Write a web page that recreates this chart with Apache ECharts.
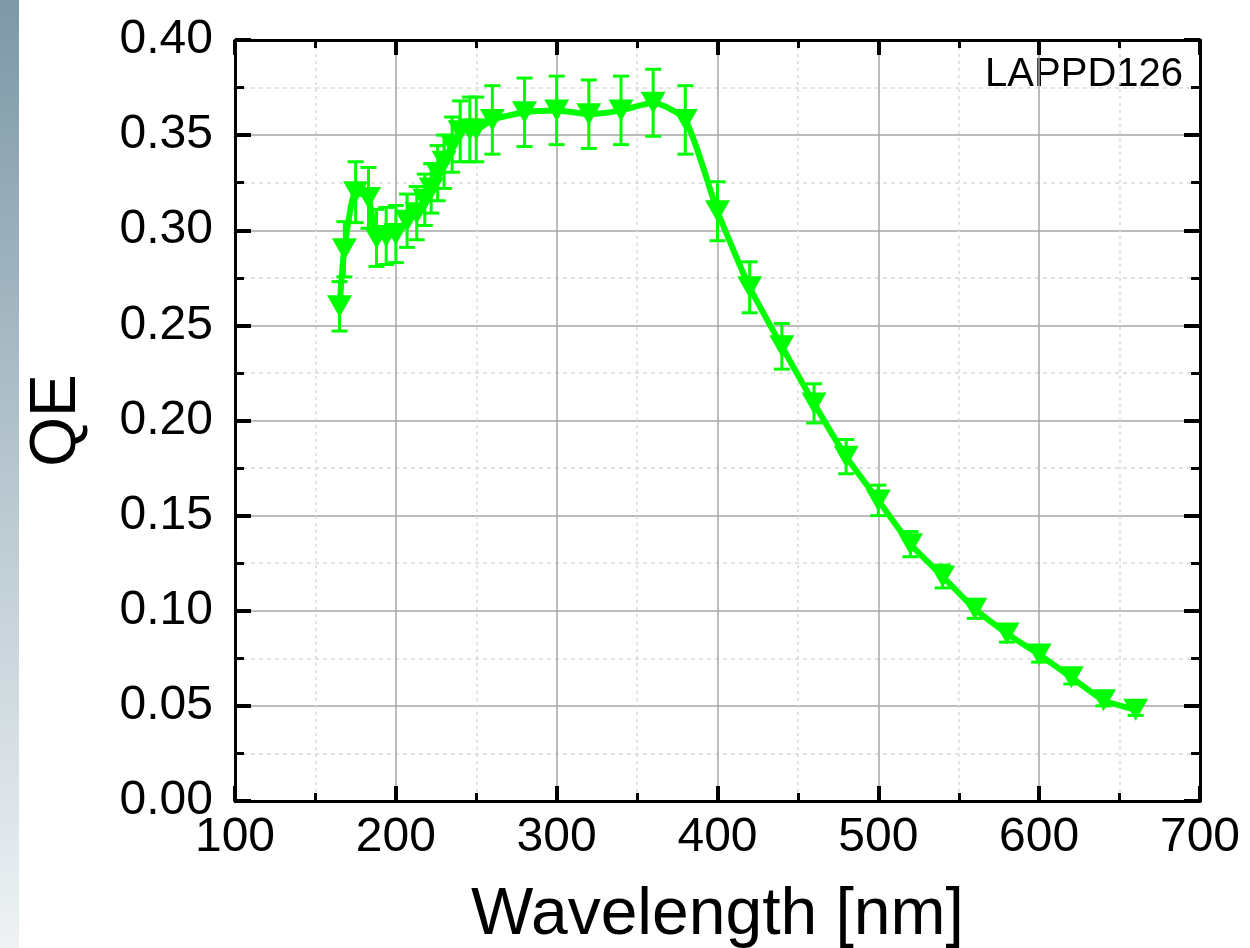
<!DOCTYPE html>
<html>
<head>
<meta charset="utf-8">
<script src="https://cdn.jsdelivr.net/npm/echarts@6/dist/echarts.min.js"></script>
<style>
  html, body { margin: 0; padding: 0; background: #fff; }
  #chart { width: 1250px; height: 948px; }
</style>
</head>
<body>
<div id="chart"></div>
<script>
// wavelength [nm]
const wavelengths = [165, 168, 175, 183, 188, 194, 200, 207, 213, 218, 222, 226, 230, 235, 240, 246, 250, 260,
  280, 300, 320, 340, 360, 380, 400, 420, 440, 460, 480, 500, 520, 540, 560, 580, 600, 620, 640, 660]
// quantum efficiency
const qe = [0.260, 0.290, 0.320, 0.317, 0.296, 0.297, 0.298, 0.305, 0.309, 0.316, 0.322, 0.330, 0.336, 0.345, 0.352, 0.353, 0.353, 0.358,
  0.362, 0.363, 0.361, 0.363, 0.367, 0.358, 0.310, 0.270, 0.239, 0.209, 0.181, 0.158, 0.135, 0.118, 0.101, 0.088, 0.077, 0.065, 0.053, 0.048]
// error bar half heights
const qeErr = [0.013, 0.0145, 0.016, 0.016, 0.015, 0.015, 0.015, 0.014, 0.014, 0.0135, 0.013, 0.0145, 0.014, 0.0145, 0.016, 0.017, 0.017, 0.018,
  0.018, 0.018, 0.018, 0.018, 0.0176, 0.018, 0.0155, 0.0134, 0.012, 0.0103, 0.009, 0.008, 0.0066, 0.006, 0.005, 0.0045, 0.004, 0.0035, 0.003, 0.003]
const yTicks = ['0.00', '0.05', '0.10', '0.15', '0.20', '0.25', '0.30', '0.35', '0.40']
const xTicks = ['100', '200', '300', '400', '500', '600', '700']
const sampleName = 'LAPPD126'

const FONT = 'Liberation Sans, Arial, sans-serif'
const GREEN = '#00ff00'

const points = wavelengths.map((w, i) => [w, qe[i]])
const errPoints = wavelengths.map((w, i) => [w, qe[i], qeErr[i]])

// error bars: vertical line with caps
function renderErrorBar (params, api) {
  const x = api.value(0)
  const y = api.value(1)
  const e = api.value(2)
  const top = api.coord([x, y + e])
  const bot = api.coord([x, y - e])
  const hw = 8
  const style = { stroke: GREEN, lineWidth: 3 }
  return {
    type: 'group',
    children: [
      { type: 'line', shape: { x1: top[0], y1: top[1], x2: bot[0], y2: bot[1] }, style },
      { type: 'line', shape: { x1: top[0] - hw, y1: top[1], x2: top[0] + hw, y2: top[1] }, style },
      { type: 'line', shape: { x1: bot[0] - hw, y1: bot[1], x2: bot[0] + hw, y2: bot[1] }, style }
    ]
  }
}

const frameLine = { show: true, onZero: false, lineStyle: { color: '#000', width: 3 } }

function frameAxis (position, tickLen, minorLen, extra) {
  return Object.assign({
    type: 'value',
    position,
    axisLine: frameLine,
    axisTick: { show: true, inside: true, length: tickLen, lineStyle: { color: '#000', width: 4 } },
    minorTick: { show: true, splitNumber: 2, length: minorLen, lineStyle: { color: '#000', width: 3 } },
    splitLine: { show: false },
    axisLabel: { show: false }
  }, extra)
}

const chart = echarts.init(document.getElementById('chart'), null, { renderer: 'canvas' })

chart.setOption({
  animation: false,
  backgroundColor: '#fff',
  grid: { left: 235, right: 50, top: 40, bottom: 147, containLabel: false, outerBoundsMode: 'none' },
  xAxis: [
    frameAxis('bottom', 15, 8, {
      min: 100,
      max: 700,
      interval: 100,
      splitLine: { show: true, lineStyle: { color: '#a6a6a6', width: 1.5 } },
      minorSplitLine: { show: true, lineStyle: { color: '#d9d9d9', width: 1.5, type: [3, 4] } },
      axisLabel: {
        show: true,
        margin: 13,
        color: '#000',
        fontSize: 48,
        fontFamily: FONT,
        formatter: (v) => xTicks[Math.round((v - 100) / 100)]
      },
      name: 'Wavelength [nm]',
      nameLocation: 'middle',
      nameGap: 82,
      nameTextStyle: { color: '#000', fontSize: 66, fontFamily: FONT }
    }),
    frameAxis('top', 15, 8, { min: 100, max: 700, interval: 100 })
  ],
  yAxis: [
    frameAxis('left', 16, 9, {
      min: 0,
      max: 0.4,
      interval: 0.05,
      splitLine: { show: true, lineStyle: { color: '#a6a6a6', width: 1.5 } },
      minorSplitLine: { show: true, lineStyle: { color: '#d9d9d9', width: 1.5, type: [4, 4] } },
      axisLabel: {
        show: true,
        margin: 22,
        color: '#000',
        fontSize: 48,
        fontFamily: FONT,
        formatter: (v) => yTicks[Math.round(v / 0.05)]
      },
      name: 'QE',
      nameLocation: 'middle',
      nameGap: 146,
      nameRotate: 90,
      nameTextStyle: { color: '#000', fontSize: 64, fontFamily: FONT }
    }),
    frameAxis('right', 16, 9, { min: 0, max: 0.4, interval: 0.05 })
  ],
  graphic: [
    {
      type: 'rect',
      left: 0,
      top: 0,
      z: 100,
      shape: { width: 19, height: 948 },
      style: {
        fill: new echarts.graphic.LinearGradient(0, 0, 0, 1, [
          { offset: 0, color: '#7d98a6' },
          { offset: 0.5, color: '#b7c6cf' },
          { offset: 1, color: '#eef2f4' }
        ])
      }
    },
    {
      type: 'group',
      z: 50,
      children: [
        { type: 'rect', shape: { x: 978, y: 46, width: 210, height: 52 }, style: { fill: '#fff' } },
        {
          type: 'text',
          x: 1183,
          y: 75,
          style: { text: sampleName, fill: '#000', font: '40px ' + FONT, align: 'right', verticalAlign: 'middle' }
        }
      ]
    }
  ],
  series: [
    {
      type: 'custom',
      name: 'err',
      renderItem: renderErrorBar,
      data: errPoints,
      z: 3
    },
    {
      type: 'line',
      name: sampleName,
      data: points,
      smooth: 0.2,
      lineStyle: { color: GREEN, width: 6 },
      itemStyle: { color: GREEN },
      symbol: 'triangle',
      symbolRotate: 180,
      symbolSize: [25, 22],
      showAllSymbol: true,
      z: 4
    }
  ]
})
</script>
</body>
</html>
